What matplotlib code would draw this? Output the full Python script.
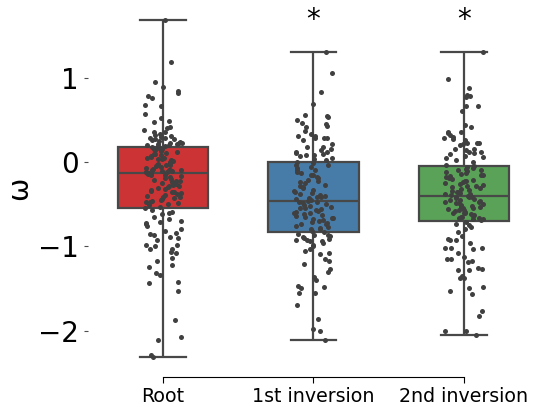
import matplotlib
matplotlib.use("Agg")
import matplotlib.pyplot as plt
import numpy as np
import pandas as pd
import seaborn as sns

GROUPS = ["Root", "1st inversion", "2nd inversion"]

# omega values read off the strip points (estimated in the dense middle)
ROOT = [1.68, 1.19, 0.95, 0.89, 0.84, 0.82, 0.78, 0.76, 0.68, 0.67,
        0.57, 0.52, 0.49, 0.47, 0.42, 0.40, 0.38, 0.36, 0.35, 0.33,
        0.32, 0.31, 0.30, 0.29, 0.28, 0.27, 0.27, 0.26, 0.25, 0.24,
        0.23, 0.23, 0.22, 0.21, 0.21, 0.20, 0.20, 0.19, 0.19, 0.18,
        0.17, 0.16, 0.15, 0.14, 0.13, 0.12, 0.11, 0.10, 0.09, 0.08,
        0.07, 0.06, 0.05, 0.05, 0.04, 0.03, 0.02, 0.01, 0.00, -0.01,
        -0.02, -0.03, -0.04, -0.04, -0.05, -0.06, -0.07, -0.08, -0.09, -0.09,
        -0.10, -0.10, -0.11, -0.11, -0.12, -0.12, -0.12, -0.13, -0.13, -0.13,
        -0.14, -0.15, -0.16, -0.17, -0.18, -0.19, -0.20, -0.21, -0.22, -0.23,
        -0.24, -0.25, -0.26, -0.27, -0.28, -0.29, -0.30, -0.31, -0.32, -0.33,
        -0.34, -0.35, -0.36, -0.37, -0.38, -0.39, -0.40, -0.41, -0.42, -0.43,
        -0.44, -0.45, -0.46, -0.47, -0.48, -0.49, -0.50, -0.51, -0.53, -0.54,
        -0.57, -0.59, -0.60, -0.62, -0.65, -0.68, -0.70, -0.71, -0.72, -0.74,
        -0.76, -0.80, -0.82, -0.84, -0.85, -0.86, -0.89, -0.90, -0.93, -0.98,
        -0.99, -1.00, -1.03, -1.03, -1.07, -1.08, -1.14, -1.17, -1.22, -1.25,
        -1.32, -1.34, -1.42, -1.44, -1.53, -1.87, -2.07, -2.11, -2.29, -2.31]

FIRST = [1.30, 1.06, 0.83, 0.69, 0.56, 0.54, 0.53, 0.50, 0.46, 0.45,
         0.43, 0.41, 0.37, 0.33, 0.31, 0.31, 0.29, 0.28, 0.28, 0.26,
         0.21, 0.18, 0.18, 0.15, 0.14, 0.12, 0.12, 0.11, 0.10, 0.08,
         0.08, 0.07, 0.05, 0.04, 0.02,
         0.00, -0.01, -0.03, -0.04, -0.06, -0.07, -0.09, -0.10, -0.12, -0.13,
         -0.15, -0.16, -0.18, -0.19, -0.21, -0.22, -0.24, -0.25, -0.27, -0.28,
         -0.30, -0.31, -0.33, -0.34, -0.36, -0.37, -0.38, -0.39, -0.40, -0.41,
         -0.42, -0.43, -0.44, -0.45, -0.46,
         -0.47, -0.48, -0.49, -0.50, -0.51, -0.52, -0.53, -0.54, -0.55, -0.56,
         -0.57, -0.58, -0.59, -0.60, -0.61, -0.62, -0.63, -0.64, -0.65, -0.66,
         -0.67, -0.68, -0.69, -0.70, -0.71, -0.72, -0.73, -0.74, -0.76, -0.77,
         -0.78, -0.79, -0.80, -0.82, -0.83,
         -0.85, -0.86, -0.87, -0.88, -0.89, -0.90, -0.91, -0.92, -0.93, -0.94,
         -0.94, -0.96, -0.98, -1.00, -1.03, -1.05, -1.08, -1.09, -1.15, -1.18,
         -1.21, -1.27, -1.30, -1.36, -1.40, -1.47, -1.48, -1.49, -1.55, -1.55,
         -1.70, -1.86, -1.98, -2.01, -2.11]

SECOND = [1.31, 0.99, 0.88, 0.80, 0.78, 0.77, 0.67, 0.66, 0.61, 0.44,
          0.41, 0.35, 0.35, 0.34, 0.32, 0.29, 0.30, 0.27, 0.26, 0.23,
          0.22, 0.21, 0.22, 0.20, 0.15, 0.14, 0.12, 0.16, 0.12, 0.11,
          0.10, 0.07, 0.06, 0.05, 0.02, 0.00, -0.03,
          -0.05, -0.06, -0.07, -0.08, -0.09, -0.10, -0.11, -0.12, -0.13, -0.14,
          -0.15, -0.16, -0.17, -0.18, -0.19, -0.20, -0.21, -0.22, -0.23, -0.24,
          -0.25, -0.26, -0.27, -0.28, -0.29, -0.30, -0.31, -0.32, -0.33, -0.34,
          -0.35, -0.36, -0.37, -0.38, -0.38, -0.39, -0.40,
          -0.41, -0.41, -0.42, -0.43, -0.44, -0.45, -0.45, -0.46, -0.47, -0.48,
          -0.49, -0.49, -0.50, -0.51, -0.52, -0.53, -0.53, -0.54, -0.55, -0.56,
          -0.57, -0.57, -0.58, -0.59, -0.60, -0.61, -0.61, -0.62, -0.63, -0.64,
          -0.65, -0.65, -0.66, -0.67, -0.68, -0.68, -0.69,
          -0.71, -0.74, -0.75, -0.77, -0.80, -0.83, -0.88, -0.91, -0.93, -0.93,
          -0.96, -1.02, -1.02, -1.02, -1.03, -1.08, -1.13, -1.15, -1.15, -1.17,
          -1.19, -1.26, -1.27, -1.28, -1.28, -1.35, -1.38, -1.38, -1.48, -1.50,
          -1.53, -1.56, -1.77, -1.83, -2.00, -2.01, -2.05]

SIGNIF = {"1st inversion": "*", "2nd inversion": "*"}

df = pd.DataFrame({
    "group": ["Root"] * len(ROOT) + ["1st inversion"] * len(FIRST) + ["2nd inversion"] * len(SECOND),
    "omega": ROOT + FIRST + SECOND,
})

np.random.seed(3)
fig = plt.figure(figsize=(5.34, 4.07), dpi=100)
ax = fig.add_axes([0.1643, 0.0737, 0.8313, 0.926])

sns.boxplot(data=df, x="group", y="omega", hue="group", order=GROUPS, hue_order=GROUPS,
            palette="Set1", width=0.6, whis=np.inf, showfliers=False, linewidth=1.6,
            legend=False, ax=ax)
sns.stripplot(data=df, x="group", y="omega", order=GROUPS, color=".25", size=3.6,
              jitter=0.13, ax=ax, zorder=5)

for g, s in SIGNIF.items():
    ax.text(GROUPS.index(g), 1.68, s, ha="center", va="center", fontsize=20)

ax.set_xlim(-0.5, 2.45)
ax.set_ylim(-2.55, 1.92)
ax.set_yticks([-2, -1, 0, 1])
ax.set_yticklabels(["\u22122", "\u22121", "0", "1"])
ax.tick_params(axis="y", labelsize=20, length=3, width=0.8, color="0.3")
ax.tick_params(axis="x", labelsize=13.7, length=4, width=0.8, pad=3)
ax.set_xlabel("")
ax.set_ylabel("\u03c9", fontsize=20)
ax.yaxis.set_label_coords(-0.123, 0.5)
for side in ["top", "right", "left"]:
    ax.spines[side].set_visible(False)
ax.spines["bottom"].set_bounds(0, 2)
ax.spines["bottom"].set_linewidth(0.8)

fig.savefig("out.png", dpi=100)
